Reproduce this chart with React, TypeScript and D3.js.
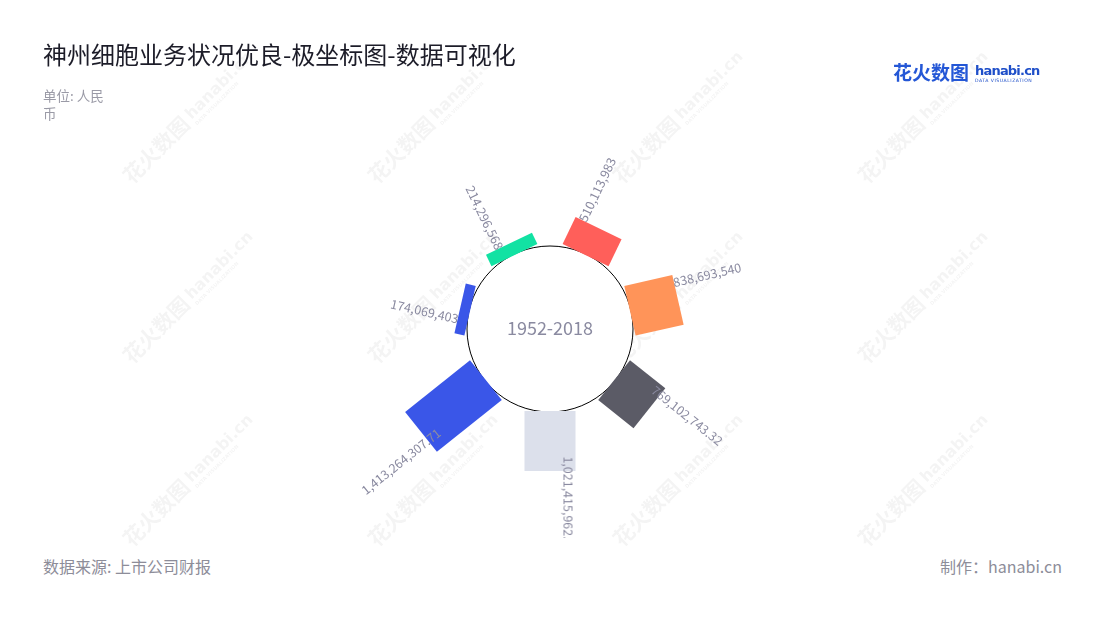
import React from "react";
import * as d3 from "d3";

// ---- data ----
const categoryIds = ["c1", "c2", "c3", "c4", "c5", "c6", "c7"];
const values = [510113983, 838693540, 769102743.32, 1021415962.56, 1413264307.71, 174069403, 214296568];
const colors = ["#FF5F5A", "#FF9459", "#5B5B66", "#DCE0EB", "#3A56E8", "#3A56E8", "#12E2A3"];
const centerLabel = "1952-2018";
const title = "神州细胞业务状况优良-极坐标图-数据可视化";
const unitLines = ["单位: 人民", "币"];
const source = "数据来源: 上市公司财报";
const credit = "制作：hanabi.cn";
const wmCols = [132, 377, 622, 867];
const wmRows = [185, 365, 548];

const FONT = "'Noto Sans CJK SC', 'Noto Sans', sans-serif";

export default function App() {
  const W = 1100;
  const H = 620;
  const cx = 550;
  const cy = 329;
  const innerR = 83;
  const barStart = innerR - 1;
  const barW = 51;

  const angle = d3.scaleBand<string>().domain(categoryIds).range([0, 360]);
  const len = d3.scaleLinear().domain([0, d3.max(values) as number]).range([0, innerR]);
  const fmt = d3.format(",");

  const items = categoryIds.map((id, i) => {
    const a = (angle(id) as number) + angle.bandwidth() / 2;
    return { id, a, v: values[i], color: colors[i], l: len(values[i]) };
  });

  return (
    <svg width={W} height={H} style={{ position: "absolute", left: 0, top: 0, background: "#fff" }} fontFamily={FONT}>
      <defs>
        <clipPath id="labelClip">
          <rect x={0} y={0} width={W} height={538} />
        </clipPath>
      </defs>
      {/* watermarks */}
      <g fill="#000" opacity={0.045} fontWeight="bold">
        {wmRows.map((y) =>
          wmCols.map((x) => (
            <g key={`${x}-${y}`} transform={`translate(${x},${y}) rotate(-45)`}>
              <text x={0} y={0} fontSize={21}>花火数图</text>
              <text x={88} y={-4} fontSize={16} fontFamily="'DejaVu Sans', sans-serif">hanabi.cn</text>
              <text x={88} y={4} fontSize={5} fontFamily="'DejaVu Sans', sans-serif">DATA VISUALIZATION</text>
            </g>
          ))
        )}
      </g>

      {/* title */}
      <text x={43} y={64} fontSize={24} fill="#1c1c28">{title}</text>
      {unitLines.map((t, i) => (
        <text key={i} x={43} y={100.5 + i * 18} fontSize={13.5} fill="#9a9aa6">{t}</text>
      ))}

      {/* logo */}
      <g>
        <text x={893} y={80} fontSize={19} fontWeight="bold" fill="#2457d6">花火数图</text>
        <text x={975} y={75} fontSize={13} fontWeight="bold" fill="#1f4fc9" fontFamily="'DejaVu Sans', sans-serif" letterSpacing={-0.8}>hanabi.cn</text>
        <text x={975} y={82} fontSize={4.6} fill="#1f4fc9" fontFamily="'DejaVu Sans', sans-serif" letterSpacing={0.5}>DATA VISUALIZATION</text>
      </g>

      {/* center circle */}
      <circle cx={cx} cy={cy} r={innerR} fill="#fff" stroke="#000" strokeWidth={1} />
      <text x={cx} y={cy} dy="0.35em" textAnchor="middle" fontSize={18} fill="#8a8aa0">{centerLabel}</text>

      {/* bars */}
      {items.map((d) => (
        <g key={d.id} transform={`translate(${cx},${cy}) rotate(${d.a})`}>
          <rect x={-barW / 2} y={-(barStart + d.l)} width={barW} height={d.l} fill={d.color} />
        </g>
      ))}

      {/* labels */}
      <g clipPath="url(#labelClip)">
        {items.map((d) => {
          const right = d.a <= 180;
          const rc = barStart + d.l + 34;
          const fx = right ? -17.5 : -11;
          return (
            <g key={d.id} transform={`translate(${cx},${cy}) rotate(${d.a})`}>
              <text
                transform={`translate(${fx},${-rc}) rotate(${right ? -90 : 90})`}
                textAnchor="middle"
                dy="0.35em"
                fontSize={12.5}
                fill="#8a8aa0"
              >
                {fmt(d.v)}
              </text>
            </g>
          );
        })}
      </g>

      {/* footer */}
      <text x={43} y={573} fontSize={16} fill="#8d8d99">{source}</text>
      <text x={1062} y={573} fontSize={16} fill="#8d8d99" textAnchor="end">{credit}</text>
    </svg>
  );
}
